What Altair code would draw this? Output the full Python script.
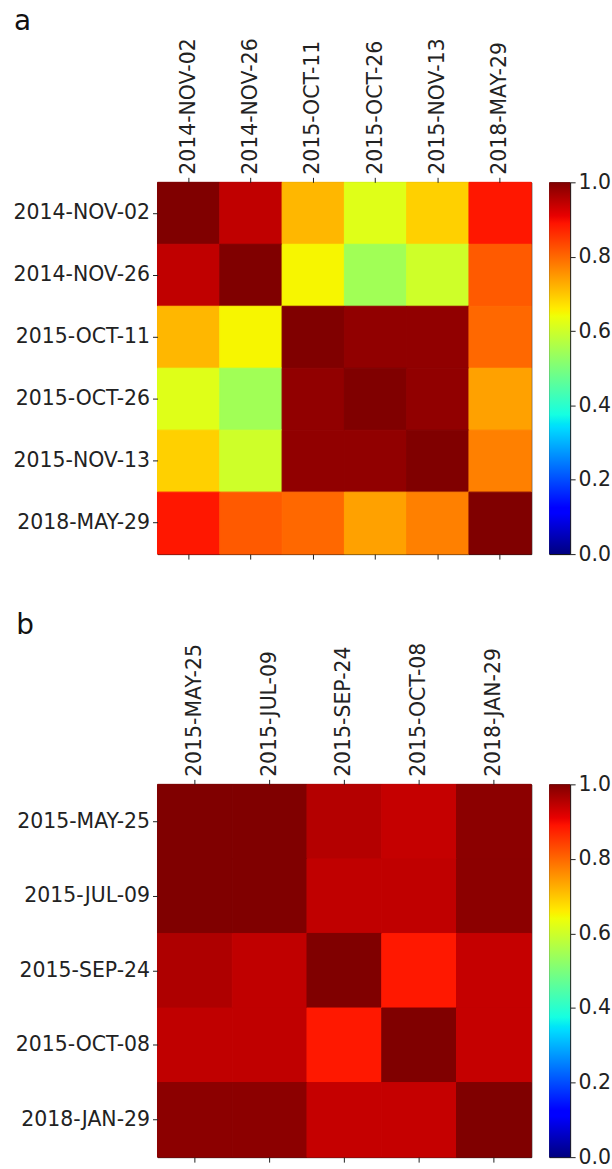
import altair as alt
import pandas as pd

# ---------- data ----------
dates_a = ["2014-NOV-02", "2014-NOV-26", "2015-OCT-11", "2015-OCT-26", "2015-NOV-13", "2018-MAY-29"]
vals_a = [
    [1.000, 0.945, 0.716, 0.620, 0.690, 0.886],
    [0.945, 1.000, 0.650, 0.545, 0.600, 0.815],
    [0.716, 0.650, 1.000, 0.985, 0.985, 0.800],
    [0.620, 0.545, 0.985, 1.000, 0.985, 0.740],
    [0.690, 0.600, 0.985, 0.985, 1.000, 0.775],
    [0.886, 0.815, 0.800, 0.740, 0.775, 1.000],
]
dates_b = ["2015-MAY-25", "2015-JUL-09", "2015-SEP-24", "2015-OCT-08", "2018-JAN-29"]
vals_b = [
    [1.000, 1.000, 0.955, 0.940, 0.990],
    [1.000, 1.000, 0.945, 0.945, 0.990],
    [0.960, 0.945, 1.000, 0.885, 0.940],
    [0.945, 0.945, 0.885, 1.000, 0.940],
    [0.990, 0.990, 0.940, 0.940, 1.000],
]
cbar_ticks = [0.0, 0.2, 0.4, 0.6, 0.8, 1.0]

# ---------- jet colormap (matplotlib segment data) ----------
knots = [0.0, 0.11, 0.125, 0.34, 0.35, 0.375, 0.64, 0.65, 0.66, 0.89, 0.91, 1.0]


def _interp(v, pts):
    for (x0, y0), (x1, y1) in zip(pts[:-1], pts[1:]):
        if x0 <= v <= x1:
            return y0 + (y1 - y0) * (v - x0) / (x1 - x0) if x1 > x0 else y1
    return pts[-1][1]


R = [(0, 0), (0.35, 0), (0.66, 1), (0.89, 1), (1, 0.5)]
G = [(0, 0), (0.125, 0), (0.375, 1), (0.64, 1), (0.91, 0), (1, 0)]
B = [(0, 0.5), (0.11, 1), (0.34, 1), (0.65, 0), (1, 0)]


def jet(v):
    return "#%02x%02x%02x" % tuple(int(round(255 * _interp(v, c))) for c in (R, G, B))


jet_colors = [jet(k) for k in knots]
color_scale = alt.Scale(domain=knots, range=jet_colors, interpolate="rgb")

FONT = "DejaVu Sans"
LBL = 20.5
TXT = "#222222"


def long_df(dates, vals):
    rows = []
    for i, r in enumerate(dates):
        for j, c in enumerate(dates):
            rows.append({"row": r, "col": c, "v": vals[i][j]})
    return pd.DataFrame(rows)


def panel(dates, vals, letter, size):
    df = long_df(dates, vals)
    xs = alt.Scale(domain=dates, paddingInner=0, paddingOuter=0)
    ys = alt.Scale(domain=dates, paddingInner=0, paddingOuter=0)
    heat = alt.Chart(df).mark_rect(strokeWidth=1).encode(
        x=alt.X("col:N", scale=xs, title=None,
                axis=alt.Axis(orient="top", labelAngle=270, labelAlign="left",
                              labelBaseline="middle")),
        y=alt.Y("row:N", scale=ys, title=None, axis=alt.Axis(orient="left")),
        color=alt.Color("v:Q", scale=color_scale, legend=None),
        stroke=alt.Stroke("v:Q", scale=color_scale, legend=None),
    )
    ticks_bottom = alt.Chart(df).mark_rect(opacity=0).encode(
        x=alt.X("col:N", scale=xs, title=None,
                axis=alt.Axis(orient="bottom", labels=False)),
        y=alt.Y("row:N", scale=ys, title=None),
    )
    hm = alt.layer(heat, ticks_bottom).properties(
        width=size[0], height=size[1],
        title=alt.TitleParams(letter, anchor="start", frame="bounds", fontSize=28,
                              fontWeight="normal", font=FONT, color="#111111",
                              offset=2, dx=1),
    )
    stops = [alt.GradientStop(offset=k, color=c) for k, c in zip(knots, jet_colors)]
    cb = alt.Chart(pd.DataFrame({"lo": [0.0], "hi": [1.0]})).mark_rect(
        color=alt.Gradient(gradient="linear", stops=stops, x1=0, x2=0, y1=1, y2=0)
    ).encode(
        x=alt.value(0), x2=alt.value("width"),
        y=alt.Y("lo:Q", scale=alt.Scale(domain=[0, 1], nice=False),
                axis=alt.Axis(orient="right", values=cbar_ticks, format=".1f",
                              grid=False, title=None)),
        y2="hi:Q",
    ).properties(width=21, height=size[1])
    return alt.hconcat(hm, cb, spacing=16)


pa = panel(dates_a, vals_a, "a", (375, 373))
pb = panel(dates_b, vals_b, "b", (375, 374))

chart = alt.vconcat(pa, pb, spacing=46).properties(
    padding={"left": 12, "top": 5, "right": 0, "bottom": 0},
    background="white",
).configure_view(stroke="black", strokeWidth=1).configure_axis(
    domain=False, ticks=True, tickSize=5, tickColor="#222222", tickWidth=1,
    labelFont=FONT, labelFontSize=LBL, labelColor=TXT, labelPadding=3,
    grid=False, labelOverlap=False, labelLimit=400,
).configure_concat(spacing=16)

chart.save("out.html", embed_options={"renderer": "svg", "actions": False})
